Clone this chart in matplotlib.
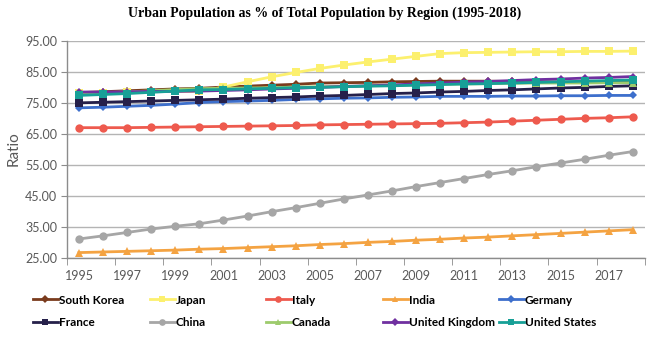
import numpy as np
import matplotlib
matplotlib.use("Agg")
import matplotlib.pyplot as plt
from matplotlib.lines import Line2D
from matplotlib.ticker import FixedLocator, FormatStrFormatter

years = list(range(1995, 2019))

south_korea = [78.2, 78.5, 78.8, 79.1, 79.4, 79.6, 80.0, 80.3, 80.6, 80.9, 81.3, 81.4,
               81.5, 81.7, 81.8, 81.9, 81.9, 81.9, 81.8, 81.7, 81.6, 81.6, 81.5, 81.5]
japan = [78.0, 78.2, 78.4, 78.5, 78.6, 78.6, 80.0, 81.7, 83.3, 84.7, 86.0, 87.1,
         88.1, 89.0, 89.9, 90.8, 91.1, 91.2, 91.3, 91.4, 91.4, 91.5, 91.5, 91.6]
italy = [66.9, 66.9, 66.9, 67.0, 67.1, 67.2, 67.3, 67.4, 67.5, 67.6, 67.8, 67.9,
         68.0, 68.1, 68.2, 68.3, 68.5, 68.7, 69.0, 69.3, 69.6, 69.9, 70.1, 70.4]
india = [26.6, 26.8, 27.0, 27.2, 27.4, 27.7, 27.9, 28.2, 28.5, 28.8, 29.2, 29.5,
         29.9, 30.2, 30.6, 30.9, 31.3, 31.6, 32.0, 32.4, 32.8, 33.2, 33.6, 34.0]
germany = [73.3, 73.5, 73.8, 74.1, 74.5, 75.0, 75.3, 75.5, 75.7, 76.0, 76.2, 76.4,
           76.5, 76.7, 76.8, 77.0, 77.0, 77.0, 77.1, 77.1, 77.2, 77.2, 77.3, 77.3]
france = [74.9, 75.1, 75.3, 75.5, 75.7, 75.9, 76.1, 76.4, 76.6, 76.8, 77.1, 77.3,
          77.6, 77.9, 78.1, 78.4, 78.6, 78.9, 79.1, 79.4, 79.7, 79.9, 80.2, 80.4]
china = [31.0, 32.0, 33.1, 34.2, 35.1, 35.9, 37.1, 38.4, 39.8, 41.1, 42.5, 43.9,
         45.2, 46.5, 47.9, 49.2, 50.5, 51.8, 53.0, 54.3, 55.5, 56.7, 58.0, 59.2]
canada = [77.7, 78.1, 78.4, 78.8, 79.2, 79.5, 79.6, 79.7, 79.8, 80.0, 80.1, 80.2,
          80.4, 80.5, 80.7, 80.9, 81.0, 81.1, 81.2, 81.3, 81.3, 81.3, 81.4, 81.4]
united_kingdom = [78.4, 78.4, 78.5, 78.6, 78.6, 78.7, 78.9, 79.1, 79.4, 79.6, 79.9, 80.2,
                  80.4, 80.7, 81.0, 81.3, 81.6, 81.8, 82.1, 82.4, 82.6, 82.9, 83.1, 83.4]
united_states = [77.3, 77.6, 77.9, 78.3, 78.7, 79.1, 79.2, 79.4, 79.6, 79.8, 79.9, 80.1,
                 80.3, 80.4, 80.6, 80.8, 81.0, 81.1, 81.3, 81.5, 81.7, 81.9, 82.1, 82.3]

names = ["South Korea", "Japan", "Italy", "India", "Germany",
         "France", "China", "Canada", "United Kingdom", "United States"]
values = [south_korea, japan, italy, india, germany,
          france, china, canada, united_kingdom, united_states]
colors = ["#7a3b1d", "#fcf06e", "#ee5a4e", "#f4a342", "#3d6fcc",
          "#26204a", "#a6a6a6", "#9dcb6c", "#7030a0", "#17a097"]
markers = ["D", "s", "o", "^", "D", "s", "o", "^", "D", "s"]
msizes = [4.5, 5.5, 6, 6, 4.5, 5.5, 6, 6, 4.5, 5.5]

plt.rcParams["font.family"] = ["Lato", "DejaVu Sans"]
grey = "#595959"

fig = plt.figure(figsize=(6.5, 3.38), dpi=100)
ax = fig.add_axes([0.103, 0.238, 0.889, 0.642])

handles = []
for name, vals, c, m, ms in zip(names, values, colors, markers, msizes):
    ln, = ax.plot(years, vals, color=c, marker=m, markersize=ms, linewidth=2,
                  markeredgewidth=0, label=name)
    handles.append(ln)

ax.set_xlim(1994.5, 2018.5)
ax.set_ylim(25, 95)
ax.set_yticks(np.arange(25, 96, 10))
ax.yaxis.set_major_formatter(FormatStrFormatter("%.2f"))
ax.set_xticks(range(1995, 2018, 2))
ax.xaxis.set_minor_locator(FixedLocator(np.arange(1994.5, 2019, 2)))
ax.tick_params(axis="x", which="major", length=0, pad=9, labelsize=9, labelcolor=grey)
ax.tick_params(axis="x", which="minor", length=5, color="#8c8c8c", direction="out")
ax.tick_params(axis="y", length=4, color="#8c8c8c", labelsize=9, labelcolor=grey, pad=3)

ax.grid(axis="y", color="#b4b4b4", linewidth=1)
ax.set_axisbelow(True)
for s in ["top", "right"]:
    ax.spines[s].set_visible(False)
for s in ["left", "bottom"]:
    ax.spines[s].set_color("#8c8c8c")
    ax.spines[s].set_linewidth(1)

ax.set_ylabel("Ratio", fontsize=11, color=grey, labelpad=3)

fig.text(0.5, 0.962, "Urban Population as % of Total Population by Region (1995-2018)",
         ha="center", va="center", fontsize=10, fontweight="bold",
         family="Liberation Serif")

# legend: 5 columns x 2 rows, equal column spacing
col_x = [33, 150, 266, 383, 499]
row_y = [300, 323]
for i, (h, name) in enumerate(zip(handles, names)):
    x = col_x[i % 5] / 650
    y = 1 - row_y[i // 5] / 338
    proxy = Line2D([], [], color=h.get_color(), marker=h.get_marker(),
                   markersize=h.get_markersize() * 0.8, linewidth=2, markeredgewidth=0)
    fig.legend(handles=[proxy], labels=[name], loc="center left",
               bbox_to_anchor=(x, y), frameon=False, borderpad=0, borderaxespad=0,
               handlelength=2.1, handletextpad=0.1,
               prop={"family": "Lato", "weight": "bold", "size": 8.5})

fig.savefig("out.png", dpi=100)
